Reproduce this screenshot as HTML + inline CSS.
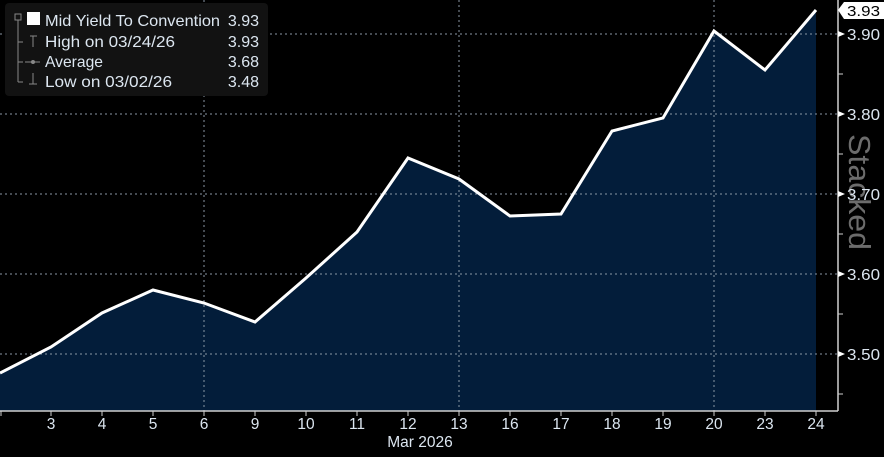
<!DOCTYPE html><html><head><style>
body{margin:0;background:#000;width:884px;height:452px;overflow:hidden;font-family:"Liberation Sans",sans-serif}
</style></head><body>
<svg width="884" height="452" viewBox="0 0 884 452" xmlns="http://www.w3.org/2000/svg">
<rect width="884" height="452" fill="#000"/>
<polygon fill="#031d3a" points="0,373 51,347 102,313 153,290 204,303 255,322 306,278 357,232 408,158 459,179 510,216 561,214 612,131 663,118 714,31 765,70 816,10 816,411 0,411"/>
<g stroke="#8a96a4" stroke-width="1" stroke-dasharray="2,3">
<line x1="0" y1="34" x2="838" y2="34"/><line x1="0" y1="114" x2="838" y2="114"/><line x1="0" y1="194" x2="838" y2="194"/><line x1="0" y1="274" x2="838" y2="274"/><line x1="0" y1="354" x2="838" y2="354"/>
<line x1="204" y1="0" x2="204" y2="411"/><line x1="459" y1="0" x2="459" y2="411"/><line x1="714" y1="0" x2="714" y2="411"/>
</g>
<polyline fill="none" stroke="#fff" stroke-width="3" stroke-linejoin="miter" points="0,373 51,347 102,313 153,290 204,303 255,322 306,278 357,232 408,158 459,179 510,216 561,214 612,131 663,118 714,31 765,70 816,10"/>
<text transform="translate(849,134) rotate(90)" font-size="31" fill="#6c6c6c" textLength="116" lengthAdjust="spacingAndGlyphs">Stacked</text>
<g stroke="#d0d0d0" stroke-width="1.5"><line x1="0" y1="411" x2="838" y2="411"/><line x1="838" y1="0" x2="838" y2="411"/></g>
<g stroke="#d0d0d0"><line x1="838" y1="74" x2="843" y2="74"/><line x1="838" y1="154" x2="843" y2="154"/><line x1="838" y1="234" x2="843" y2="234"/><line x1="838" y1="314" x2="843" y2="314"/><line x1="838" y1="394" x2="843" y2="394"/>
<line x1="1" y1="411" x2="1" y2="416"/><line x1="51" y1="411" x2="51" y2="416"/><line x1="102" y1="411" x2="102" y2="416"/><line x1="153" y1="411" x2="153" y2="416"/><line x1="204" y1="411" x2="204" y2="416"/><line x1="255" y1="411" x2="255" y2="416"/><line x1="306" y1="411" x2="306" y2="416"/><line x1="357" y1="411" x2="357" y2="416"/><line x1="408" y1="411" x2="408" y2="416"/><line x1="459" y1="411" x2="459" y2="416"/><line x1="510" y1="411" x2="510" y2="416"/><line x1="561" y1="411" x2="561" y2="416"/><line x1="612" y1="411" x2="612" y2="416"/><line x1="663" y1="411" x2="663" y2="416"/><line x1="714" y1="411" x2="714" y2="416"/><line x1="765" y1="411" x2="765" y2="416"/><line x1="816" y1="411" x2="816" y2="416"/></g>
<g fill="#fff"><polygon points="838,31 845,34 838,37"/><polygon points="838,111 845,114 838,117"/><polygon points="838,191 845,194 838,197"/><polygon points="838,271 845,274 838,277"/><polygon points="838,351 845,354 838,357"/></g>
<g fill="#dce6f0" font-size="16">
<text x="847" y="40" textLength="33" lengthAdjust="spacingAndGlyphs">3.90</text><text x="847" y="120" textLength="33" lengthAdjust="spacingAndGlyphs">3.80</text><text x="847" y="200" textLength="33" lengthAdjust="spacingAndGlyphs">3.70</text><text x="847" y="280" textLength="33" lengthAdjust="spacingAndGlyphs">3.60</text><text x="847" y="360" textLength="33" lengthAdjust="spacingAndGlyphs">3.50</text>
</g>
<polygon points="838,10 844,2 884,2 884,19 844,19" fill="#fff"/>
<text x="847" y="16" font-size="15" fill="#000" textLength="33" lengthAdjust="spacingAndGlyphs">3.93</text>
<g fill="#dce6f0" font-size="15.5" text-anchor="middle">
<text x="51" y="429">3</text><text x="102" y="429">4</text><text x="153" y="429">5</text><text x="204" y="429">6</text><text x="255" y="429">9</text><text x="306" y="429">10</text><text x="357" y="429">11</text><text x="408" y="429">12</text><text x="459" y="429">13</text><text x="510" y="429">16</text><text x="561" y="429">17</text><text x="612" y="429">18</text><text x="663" y="429">19</text><text x="714" y="429">20</text><text x="765" y="429">23</text><text x="816" y="429">24</text>
<text x="420" y="447">Mar 2026</text>
</g>
<rect x="5" y="3" width="263" height="93" rx="4" fill="#121212"/>
<g stroke="#888" fill="none"><rect x="15" y="14" width="6" height="6"/><line x1="18" y1="20" x2="18" y2="82"/><line x1="18" y1="42" x2="23" y2="42"/><line x1="18" y1="62" x2="23" y2="62"/><line x1="18" y1="82" x2="23" y2="82"/>
<line x1="30" y1="36" x2="37" y2="36"/><line x1="33" y1="36" x2="33" y2="47"/><line x1="25" y1="62" x2="40" y2="62"/><line x1="33" y1="73" x2="33" y2="84"/><line x1="29" y1="84" x2="37" y2="84"/></g>
<circle cx="33" cy="62" r="2" fill="#888"/>
<rect x="27" y="12" width="13" height="13" fill="#fff"/>
<g fill="#dce6f0" font-size="16"><text x="45" y="26" textLength="175" lengthAdjust="spacingAndGlyphs">Mid Yield To Convention</text><text x="45" y="47" textLength="130" lengthAdjust="spacingAndGlyphs">High on 03/24/26</text><text x="45" y="67" textLength="58" lengthAdjust="spacingAndGlyphs">Average</text><text x="45" y="87" textLength="127" lengthAdjust="spacingAndGlyphs">Low on 03/02/26</text>
<g text-anchor="end"><text x="259" y="26">3.93</text><text x="259" y="47">3.93</text><text x="259" y="67">3.68</text><text x="259" y="87">3.48</text></g></g>
</svg>
</body></html>
